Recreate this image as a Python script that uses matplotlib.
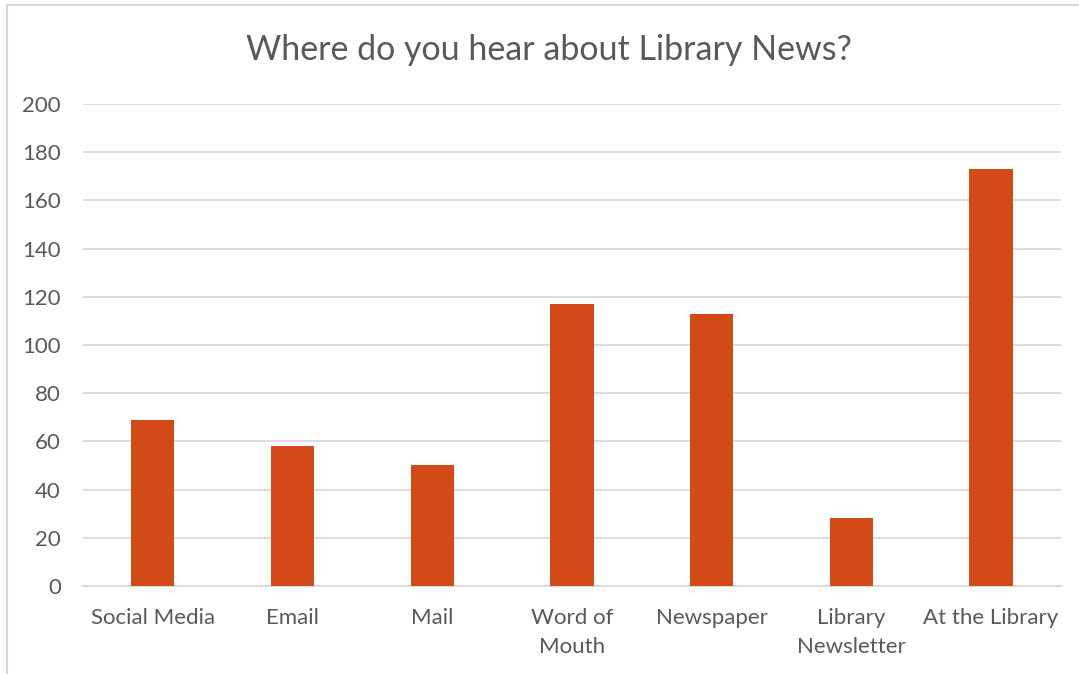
import matplotlib
matplotlib.use("Agg")
import matplotlib.pyplot as plt
from matplotlib.patches import Rectangle

# data
categories = ["Social Media", "Email", "Mail", "Word of\nMouth", "Newspaper",
              "Library\nNewsletter", "At the Library"]
counts = [69, 58, 50, 117, 113, 28, 173]
y_ticks = [0, 20, 40, 60, 80, 100, 120, 140, 160, 180, 200]

bar_color = "#D24A17"
text_color = "#595959"
grid_color = "#D9D9D9"

plt.rcParams["font.family"] = ["Lato", "DejaVu Sans"]

fig = plt.figure(figsize=(10.79, 6.74), dpi=100)
ax = fig.add_axes([0.0769, 0.1306, 0.9063, 0.7151])

x = range(len(categories))
ax.bar(x, counts, width=0.31, color=bar_color, zorder=3)

ax.set_xlim(-0.5, len(categories) - 0.5)
ax.set_ylim(0, 200)
ax.set_yticks(y_ticks)
ax.set_xticks(list(x))
ax.set_xticklabels(categories, linespacing=1.55)

ax.yaxis.grid(True, color=grid_color, linewidth=1.3, zorder=0)
ax.set_axisbelow(True)
for s in ["top", "right", "left"]:
    ax.spines[s].set_visible(False)
ax.spines["bottom"].set_color(grid_color)
ax.spines["bottom"].set_linewidth(1.3)

ax.tick_params(axis="both", length=0, labelsize=16, labelcolor=text_color)
ax.tick_params(axis="y", pad=16)
ax.tick_params(axis="x", pad=16)

fig.text(0.5087, 0.926, "Where do you hear about Library News?", ha="center",
         va="center", fontsize=24.5, color=text_color)

# outer chart border
fig.patches.append(Rectangle((7 / 1079, -0.01), 1.02, 1.0 - 5 / 674 + 0.01,
                             transform=fig.transFigure, fill=False,
                             edgecolor=grid_color, linewidth=1.5))

fig.savefig("out.png", dpi=100)
